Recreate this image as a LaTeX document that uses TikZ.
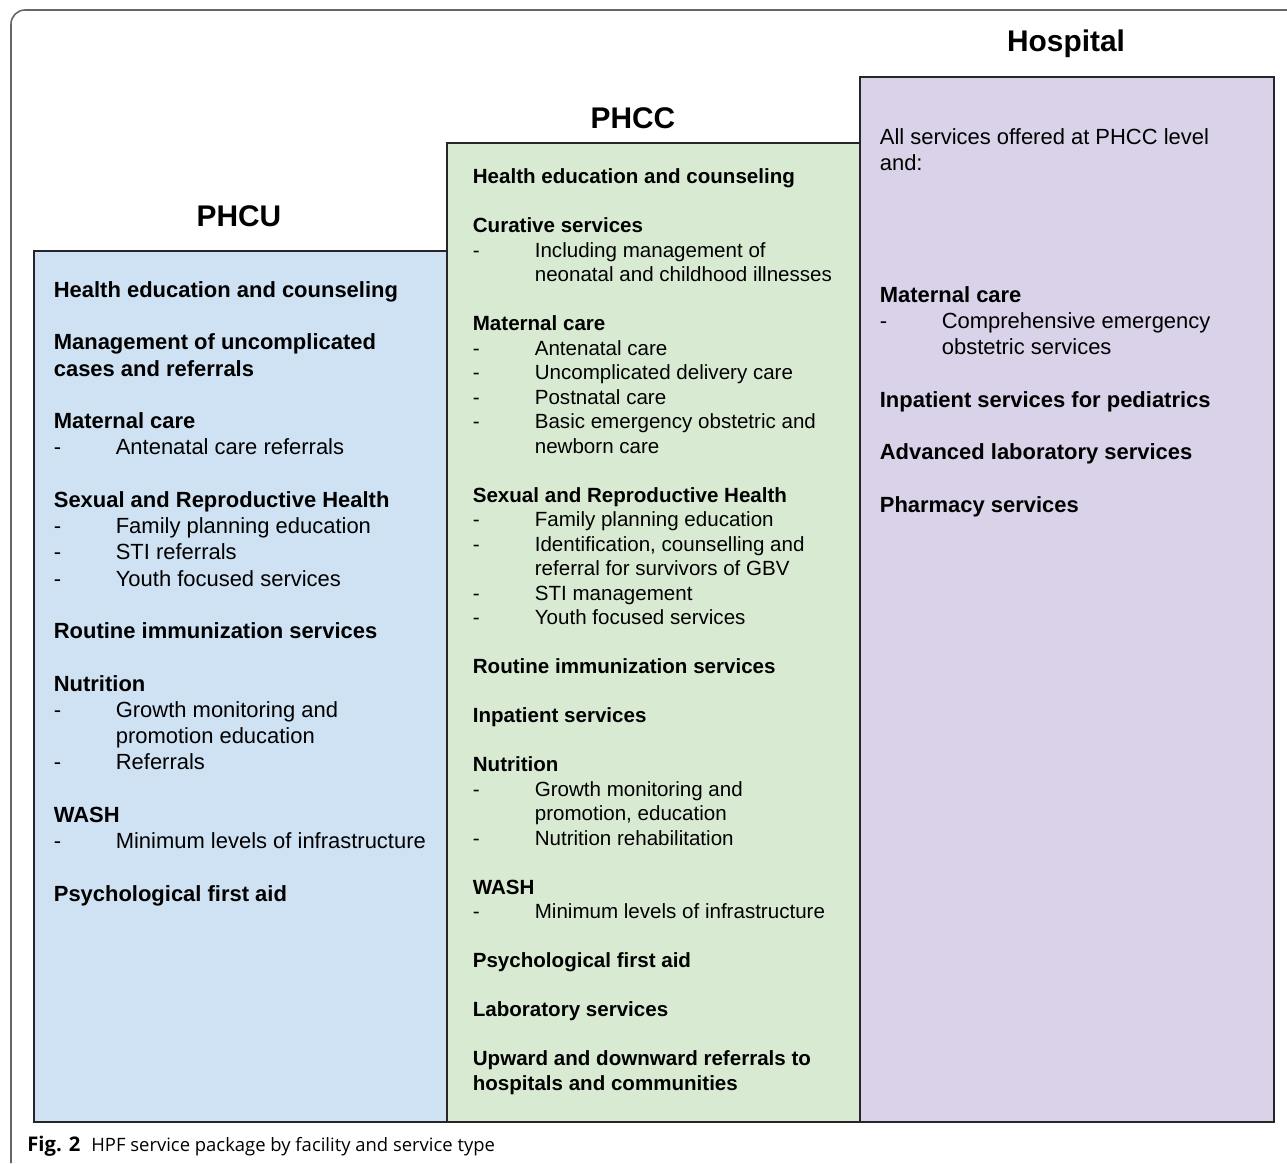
\documentclass[tikz,border=0pt]{standalone}
\usepackage{fontspec}
\setmainfont{Liberation Sans}
\newfontfamily\capfont{Open Sans}
\usetikzlibrary{positioning}

\definecolor{phcublue}{HTML}{CFE2F3}
\definecolor{phccgreen}{HTML}{D9EAD3}
\definecolor{hosppurple}{HTML}{D9D2E9}

\newlength{\dshw}
\setlength{\dshw}{1.24cm}
\newcommand{\hd}[1]{\textbf{#1}}
\newcommand{\dsh}[1]{\makebox[\dshw][l]{-}#1}
\newcommand{\contline}[1]{\hspace*{\dshw}#1}

\begin{document}
\begin{tikzpicture}[x=0.02cm, y=-0.02cm,
    level/.style={rectangle, draw=black!85, line width=1.1pt, anchor=north west, inner sep=0pt, minimum width=8.26cm},
    title/.style={anchor=base, inner sep=0pt, font=\fontsize{17}{20}\selectfont\bfseries},
    list/.style={anchor=base west, align=left, inner sep=0pt, font=\fontsize{12.5}{14.94}\selectfont}]
    \useasboundingbox (0,0) rectangle (1287,1163);

    % frame
    \draw [black!60, line width=0.9pt, rounded corners=0.28cm] (1287,10) -| (11,1163);

    % boxes
    \node [level, fill=phcublue, minimum height=17.42cm] (phcu) at (33,250) {};
    \node [level, fill=phccgreen, minimum height=19.58cm] (phcc) at (446,142) {};
    \node [level, fill=hosppurple, minimum height=20.9cm, minimum width=8.28cm] (hosp) at (859,76) {};

    % titles
    \node [title] (phcutitle) at (239,226) {PHCU};
    \node [title] (phcctitle) at (633,128) {PHCC};
    \node [title] (hosptitle) at (1066,51) {Hospital};

    % PHCU services (placed by the baseline of the last line)
    \node [list] (phculist) at (53.5,901) {%
        \hd{Health education and counseling}\\[\baselineskip]
        \hd{Management of uncomplicated}\\
        \hd{cases and referrals}\\[\baselineskip]
        \hd{Maternal care}\\
        \dsh{Antenatal care referrals}\\[\baselineskip]
        \hd{Sexual and Reproductive Health}\\
        \dsh{Family planning education}\\
        \dsh{STI referrals}\\
        \dsh{Youth focused services}\\[\baselineskip]
        \hd{Routine immunization services}\\[\baselineskip]
        \hd{Nutrition}\\
        \dsh{Growth monitoring and}\\
        \contline{promotion education}\\
        \dsh{Referrals}\\[\baselineskip]
        \hd{WASH}\\
        \dsh{Minimum levels of infrastructure}\\[\baselineskip]
        \hd{Psychological first aid}};

    % PHCC services
    \node [list, font=\fontsize{11.7}{13.94}\selectfont] (phcclist) at (472.5,1090) {%
        \hd{Health education and counseling}\\[\baselineskip]
        \hd{Curative services}\\
        \dsh{Including management of}\\
        \contline{neonatal and childhood illnesses}\\[\baselineskip]
        \hd{Maternal care}\\
        \dsh{Antenatal care}\\
        \dsh{Uncomplicated delivery care}\\
        \dsh{Postnatal care}\\
        \dsh{Basic emergency obstetric and}\\
        \contline{newborn care}\\[\baselineskip]
        \hd{Sexual and Reproductive Health}\\
        \dsh{Family planning education}\\
        \dsh{Identification, counselling and}\\
        \contline{referral for survivors of GBV}\\
        \dsh{STI management}\\
        \dsh{Youth focused services}\\[\baselineskip]
        \hd{Routine immunization services}\\[\baselineskip]
        \hd{Inpatient services}\\[\baselineskip]
        \hd{Nutrition}\\
        \dsh{Growth monitoring and}\\
        \contline{promotion, education}\\
        \dsh{Nutrition rehabilitation}\\[\baselineskip]
        \hd{WASH}\\
        \dsh{Minimum levels of infrastructure}\\[\baselineskip]
        \hd{Psychological first aid}\\[\baselineskip]
        \hd{Laboratory services}\\[\baselineskip]
        \hd{Upward and downward referrals to}\\
        \hd{hospitals and communities}};

    % Hospital services
    \node [list] (hosplist) at (879.5,512) {%
        All services offered at PHCC level\\
        and:\\[4\baselineskip]
        \hd{Maternal care}\\
        \dsh{Comprehensive emergency}\\
        \contline{obstetric services}\\[\baselineskip]
        \hd{Inpatient services for pediatrics}\\[\baselineskip]
        \hd{Advanced laboratory services}\\[\baselineskip]
        \hd{Pharmacy services}};

    % caption
    \node [anchor=base west, inner sep=0pt, font=\capfont\fontsize{10.5}{12}\selectfont] (caption) at (27,1151) {{\fontsize{11.5}{12}\selectfont\textbf{Fig. 2}}\hspace{0.6em}HPF service package by facility and service type};
\end{tikzpicture}
\end{document}
